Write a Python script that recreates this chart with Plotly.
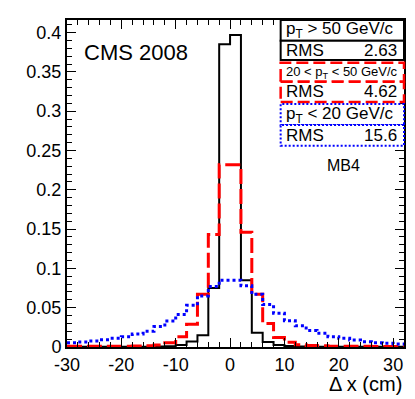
import plotly.graph_objects as go

# bin lower edges (cm), bin width 2
bin_lo = [-30, -28, -26, -24, -22, -20, -18, -16, -14, -12, -10, -8, -6, -4, -2,
          0, 2, 4, 6, 8, 10, 12, 14, 16, 18, 20, 22, 24, 26, 28, 30]
bin_hi_last = 32

# pT > 50 GeV/c
h_high = [0.0003, 0.0003, 0.0003, 0.0003, 0.0003, 0.0003, 0.0004, 0.0004, 0.0005, 0.0008,
          0.0025, 0.007, 0.015, 0.075, 0.385, 0.397, 0.085, 0.018, 0.0065, 0.0025,
          0.0012, 0.0006, 0.0004, 0.0003, 0.0003, 0.0003, 0.0003, 0.0003, 0.0003, 0.0003, 0.0003]
# 20 < pT < 50 GeV/c
h_mid = [0.0008, 0.0008, 0.0008, 0.001, 0.001, 0.001, 0.0012, 0.0015, 0.0025, 0.0055,
         0.013, 0.029, 0.067, 0.143, 0.232, 0.232, 0.146, 0.067, 0.030, 0.012,
         0.006, 0.003, 0.002, 0.0015, 0.001, 0.001, 0.0008, 0.0008, 0.0006, 0.0006, 0.0005]
# pT < 20 GeV/c
h_low = [0.0055, 0.0064, 0.0076, 0.0093, 0.011, 0.013, 0.0165, 0.020, 0.026, 0.033,
         0.0415, 0.053, 0.065, 0.077, 0.085, 0.085, 0.078, 0.067, 0.054, 0.043,
         0.0335, 0.027, 0.021, 0.0174, 0.013, 0.011, 0.0089, 0.0067, 0.0055, 0.0047, 0.0038]

x_ticks = [-30, -20, -10, 0, 10, 20, 30]
x_ticktext = ["-30", "-20", "-10", "0", "10", "20", "30"]
y_ticks = [0, 0.05, 0.1, 0.15, 0.2, 0.25, 0.3, 0.35, 0.4]
y_ticktext = ["0", "0.05", "0.1", "0.15", "0.2", "0.25", "0.3", "0.35", "0.4"]

legend_labels = ["p<sub>T</sub> > 50 GeV/c", "20 < p<sub>T</sub> < 50 GeV/c", "p<sub>T</sub> < 20 GeV/c"]
legend_rms = ["2.63", "4.62", "15.6"]

FONT = "Liberation Sans, Arial, Helvetica, sans-serif"

fig = go.Figure()

styles = [
    (h_high, dict(color="black", width=2)),
    (h_mid, dict(color="#ff0000", width=3, dash="15px,5px")),
    (h_low, dict(color="#0000ff", width=3, dash="3px,3px")),
]
xs = bin_lo + [bin_hi_last]
for vals, line in styles:
    fig.add_trace(go.Scatter(x=xs, y=vals + [vals[-1]], mode="lines",
                             line=dict(shape="hv", **line), showlegend=False,
                             hoverinfo="skip"))

axis_common = dict(
    showgrid=False, zeroline=False, showline=True, linecolor="black", linewidth=2,
    mirror="allticks", ticks="inside", tickcolor="black", tickwidth=1, ticklen=9,
    tickfont=dict(family=FONT, size=18, color="black"),
)
fig.update_xaxes(range=[-30, 32], tickmode="array", tickvals=x_ticks, ticktext=x_ticktext,
                 minor=dict(ticks="inside", ticklen=5, tickcolor="black", tickwidth=1,
                            tickmode="linear", tick0=0, dtick=2),
                 **axis_common)
fig.update_yaxes(range=[0, 0.416], tickmode="array", tickvals=y_ticks, ticktext=y_ticktext,
                 minor=dict(ticks="inside", ticklen=5, tickcolor="black", tickwidth=1,
                            tickmode="linear", tick0=0, dtick=0.01),
                 **axis_common)

# legend boxes (paper coords)
bx0 = 0.634
rows = [(1.0, 0.9367, 0.8777), (0.8694, 0.8113, 0.7492), (0.7431, 0.6789, 0.6156)]
box_lines = [dict(color="black", width=2),
             dict(color="#ff0000", width=2.5, dash="12px,5px"),
             dict(color="#0000ff", width=2, dash="2px,2px")]
label_sizes = [17, 13, 17]
for (top, mid, bot), ln, lab, rms, fs in zip(rows, box_lines, legend_labels, legend_rms, label_sizes):
    for y0, y1 in [(mid, top), (bot, mid)]:
        fig.add_shape(type="rect", xref="paper", yref="paper", x0=bx0, x1=1.0, y0=y0, y1=y1,
                      line=ln, fillcolor="white", layer="above")
    fig.add_annotation(x=bx0 + 0.01, y=(top + mid) / 2, xref="paper", yref="paper",
                       text=lab, showarrow=False, xanchor="left", yanchor="middle",
                       font=dict(family=FONT, size=fs, color="black"))
    fig.add_annotation(x=bx0 + 0.01, y=(mid + bot) / 2, xref="paper", yref="paper",
                       text="RMS", showarrow=False, xanchor="left", yanchor="middle",
                       font=dict(family=FONT, size=17, color="black"))
    fig.add_annotation(x=0.985, y=(mid + bot) / 2, xref="paper", yref="paper",
                       text=rms, showarrow=False, xanchor="right", yanchor="middle",
                       font=dict(family=FONT, size=17, color="black"))

fig.add_annotation(x=0.82, y=0.555, xref="paper", yref="paper", text="MB4", showarrow=False,
                   xanchor="center", yanchor="middle", font=dict(family=FONT, size=16, color="black"))
fig.add_annotation(x=0.045, y=0.9, xref="paper", yref="paper", text="CMS 2008", showarrow=False,
                   xanchor="left", yanchor="middle", font=dict(family=FONT, size=22, color="black"))
fig.add_annotation(x=1.0, y=-0.114, xref="paper", yref="paper", text="Δ x (cm)", showarrow=False,
                   xanchor="right", yanchor="middle", font=dict(family=FONT, size=20, color="black"))

fig.update_layout(
    width=415, height=399,
    margin=dict(l=67, r=9, t=20, b=52),
    paper_bgcolor="white", plot_bgcolor="white",
    font=dict(family=FONT, color="black"),
)

# drop the default body margin so the figure sits at the window's top-left
fig.write_html("out.html", config={"displayModeBar": False},
               post_script="document.body.style.margin='0';document.body.style.overflow='hidden';")
